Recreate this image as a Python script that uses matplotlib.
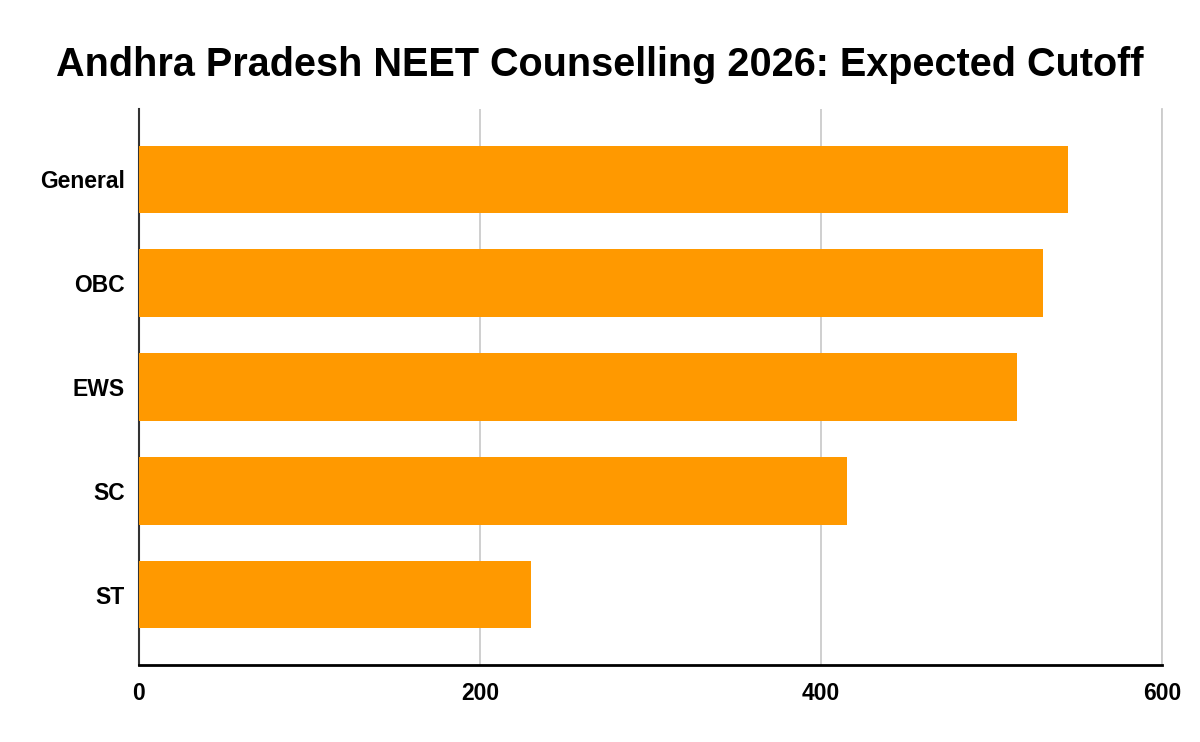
import matplotlib.pyplot as plt

plt.rcParams['font.family'] = ['Liberation Sans', 'DejaVu Sans']

# Data
categories = ["General", "OBC", "EWS", "SC", "ST"]
cutoffs = [545, 530, 515, 415, 230]
x_ticks = [0, 200, 400, 600]

bar_color = "#FF9900"

fig = plt.figure(figsize=(12, 7.42), dpi=100)
ax = fig.add_axes([0.1158, 0.1038, 0.8525, 0.7493])

ax.barh(range(len(categories)), cutoffs, height=0.65, color=bar_color, zorder=3)

ax.set_xlim(0, 600)
ax.set_ylim(4.677, -0.677)
ax.set_yticks(range(len(categories)))
ax.set_yticklabels(categories, fontsize=16.5, fontweight="bold")
ax.set_xticks(x_ticks)
ax.set_xticklabels([str(t) for t in x_ticks], fontsize=16.5, fontweight="bold")
ax.tick_params(axis="both", length=0)
ax.tick_params(axis="x", pad=12)
ax.tick_params(axis="y", pad=10)

ax.grid(axis="x", color="#cccccc", linewidth=1.3, zorder=0)
ax.set_axisbelow(True)

ax.spines["top"].set_visible(False)
ax.spines["right"].set_color("#cccccc")
ax.spines["right"].set_linewidth(1.3)
ax.spines["left"].set_color("#333333")
ax.spines["left"].set_linewidth(1.5)
ax.spines["bottom"].set_color("#000000")
ax.spines["bottom"].set_linewidth(2)

fig.suptitle("Andhra Pradesh NEET Counselling 2026: Expected Cutoff",
             fontsize=28.5, fontweight="bold", y=0.913, va="center")

fig.savefig("out.png", dpi=100)
